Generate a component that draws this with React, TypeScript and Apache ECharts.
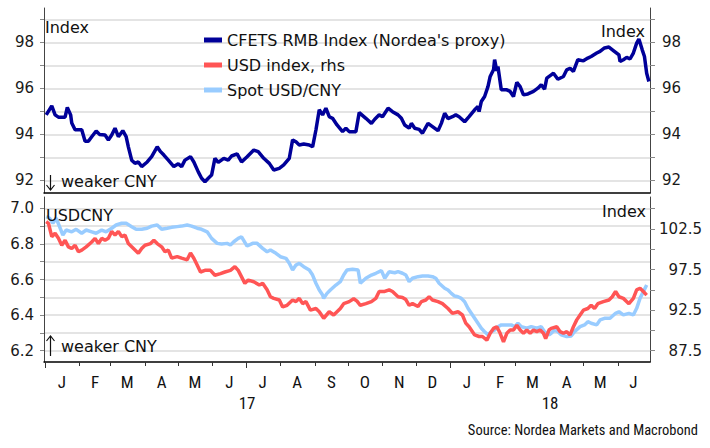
import React, { useEffect, useRef } from "react";
import * as echarts from "echarts";

// ---------- data ----------
const cfetsDates = [
  "2017-01-02","2017-01-07","2017-01-10","2017-01-13","2017-01-19","2017-01-21","2017-01-24","2017-01-25","2017-01-28",
  "2017-02-03","2017-02-06","2017-02-09","2017-02-12","2017-02-16","2017-02-19","2017-02-24","2017-02-27",
  "2017-03-02","2017-03-05","2017-03-08","2017-03-12","2017-03-15","2017-03-17","2017-03-20","2017-03-23","2017-03-26","2017-03-29",
  "2017-04-03","2017-04-07","2017-04-12","2017-04-15","2017-04-18","2017-04-22","2017-04-27",
  "2017-05-01","2017-05-04","2017-05-07","2017-05-12","2017-05-15","2017-05-19","2017-05-22","2017-05-25","2017-05-28","2017-05-31",
  "2017-06-03","2017-06-06","2017-06-11","2017-06-15","2017-06-18","2017-06-23","2017-06-27",
  "2017-07-02","2017-07-08","2017-07-12","2017-07-17","2017-07-22","2017-07-26","2017-07-31",
  "2017-08-04","2017-08-09","2017-08-12","2017-08-15","2017-08-18","2017-08-22","2017-08-27","2017-08-30",
  "2017-09-02","2017-09-05","2017-09-08","2017-09-11","2017-09-14","2017-09-17","2017-09-21","2017-09-26","2017-09-29",
  "2017-10-02","2017-10-08","2017-10-11","2017-10-17","2017-10-22","2017-10-25","2017-10-29",
  "2017-11-01","2017-11-06","2017-11-10","2017-11-15","2017-11-18","2017-11-21","2017-11-25","2017-11-27","2017-11-30",
  "2017-12-04","2017-12-07","2017-12-12","2017-12-16","2017-12-21","2017-12-24","2017-12-27","2017-12-30",
  "2018-01-03","2018-01-06","2018-01-09","2018-01-14","2018-01-18","2018-01-23","2018-01-26","2018-01-27","2018-01-29",
  "2018-02-01","2018-02-04","2018-02-06","2018-02-09","2018-02-10","2018-02-12","2018-02-13","2018-02-16","2018-02-21","2018-02-24","2018-02-27",
  "2018-03-02","2018-03-05","2018-03-08","2018-03-12","2018-03-17","2018-03-21","2018-03-24","2018-03-27","2018-03-29",
  "2018-04-02","2018-04-04","2018-04-08","2018-04-13","2018-04-16","2018-04-19","2018-04-22","2018-04-26",
  "2018-05-01","2018-05-05","2018-05-08","2018-05-13","2018-05-16","2018-05-20","2018-05-24","2018-05-28",
  "2018-06-02","2018-06-03","2018-06-06","2018-06-09","2018-06-12","2018-06-15","2018-06-18","2018-06-20","2018-06-23","2018-06-25","2018-06-27","2018-06-29",
];
const cfetsValues = [
  94.85,95.24,94.85,94.75,94.75,95.17,94.85,94.5,94.2,
  94.2,93.7,93.7,93.9,94.15,94.0,93.97,93.76,
  93.97,94.27,93.9,94.16,93.9,93.46,92.88,92.74,92.8,92.6,
  92.8,93.03,93.46,93.25,93.1,92.88,92.6,
  92.72,92.6,92.88,93.03,92.8,92.37,92.09,91.94,92.09,92.23,
  92.96,92.78,92.96,92.88,93.06,93.15,92.8,
  93.03,93.32,93.25,92.96,92.74,92.45,92.52,
  92.67,92.96,93.76,93.68,93.54,93.58,93.54,93.46,
  94.19,95.07,94.85,95.14,94.77,94.7,94.41,94.12,94.27,
  94.12,94.12,94.95,94.7,94.48,94.66,94.85,
  94.77,95.14,94.99,94.85,94.7,94.41,94.27,94.48,94.27,
  94.22,94.05,94.48,94.34,94.16,94.48,94.92,94.69,
  94.77,94.85,94.77,94.55,94.77,95.07,95.21,94.99,95.43,
  95.65,96.08,96.52,96.81,97.25,96.76,96.95,95.94,95.94,95.87,95.65,
  96.26,96.08,95.72,95.76,95.87,96.01,96.16,95.97,96.45,
  96.59,96.66,96.4,96.52,96.81,96.88,96.74,97.25,
  97.2,97.32,97.39,97.54,97.61,97.76,97.8,97.65,
  97.46,97.17,97.25,97.35,97.28,97.54,97.97,98.15,97.68,97.39,96.66,96.3,
];

const usdDates = [
  "2017-01-02","2017-01-04","2017-01-07","2017-01-10","2017-01-13","2017-01-16","2017-01-19","2017-01-22","2017-01-25","2017-01-28","2017-01-31",
  "2017-02-03","2017-02-07","2017-02-12","2017-02-15","2017-02-18","2017-02-21","2017-02-24","2017-02-27",
  "2017-03-02","2017-03-05","2017-03-08","2017-03-11","2017-03-14","2017-03-17","2017-03-20","2017-03-23","2017-03-26","2017-03-29",
  "2017-04-01","2017-04-06","2017-04-09","2017-04-12","2017-04-16","2017-04-19","2017-04-22","2017-04-25","2017-04-30",
  "2017-05-04","2017-05-09","2017-05-12","2017-05-15","2017-05-18","2017-05-21","2017-05-25","2017-05-30",
  "2017-06-03","2017-06-08","2017-06-12","2017-06-17","2017-06-21","2017-06-24","2017-06-27","2017-06-30",
  "2017-07-03","2017-07-08","2017-07-13","2017-07-16","2017-07-20","2017-07-23","2017-07-26","2017-07-31",
  "2017-08-03","2017-08-07","2017-08-12","2017-08-15","2017-08-18","2017-08-21","2017-08-24","2017-08-28",
  "2017-09-02","2017-09-05","2017-09-09","2017-09-14","2017-09-18","2017-09-21","2017-09-24","2017-09-27",
  "2017-10-02","2017-10-06","2017-10-09","2017-10-12","2017-10-17","2017-10-22","2017-10-26","2017-10-29",
  "2017-11-03","2017-11-07","2017-11-10","2017-11-15","2017-11-19","2017-11-22","2017-11-25","2017-11-28",
  "2017-12-03","2017-12-06","2017-12-10","2017-12-13","2017-12-16","2017-12-21","2017-12-25","2017-12-30",
  "2018-01-03","2018-01-08","2018-01-12","2018-01-15","2018-01-18","2018-01-23","2018-01-27","2018-01-30",
  "2018-02-03","2018-02-06","2018-02-09","2018-02-12","2018-02-15","2018-02-18","2018-02-21","2018-02-24","2018-02-27",
  "2018-03-02","2018-03-05","2018-03-08","2018-03-11","2018-03-14","2018-03-17","2018-03-20","2018-03-23","2018-03-26","2018-03-28","2018-03-31",
  "2018-04-02","2018-04-07","2018-04-10","2018-04-13","2018-04-16","2018-04-19","2018-04-22","2018-04-25","2018-04-28",
  "2018-05-01","2018-05-05","2018-05-08","2018-05-11","2018-05-14","2018-05-19","2018-05-24","2018-05-27","2018-05-30",
  "2018-06-02","2018-06-06","2018-06-11","2018-06-15","2018-06-18","2018-06-21","2018-06-24","2018-06-27",
];
const usdValues = [
  103.4,103.2,101.55,101.97,101.35,100.5,101.1,100.3,100.1,100.5,99.7,
  99.9,100.3,100.9,101.35,100.7,101.35,101.1,101.35,
  102.2,101.75,102.2,101.55,101.75,100.7,100.3,99.9,99.5,100.1,
  100.5,100.7,101.1,100.7,100.3,99.7,99.9,98.9,99.1,
  98.9,98.7,99.55,98.9,98.05,97.2,97.4,97.4,
  96.8,97.0,97.2,97.4,97.85,97.4,96.6,95.8,
  96.2,96.0,95.6,95.8,95.0,94.15,93.95,93.75,
  92.9,93.1,93.75,93.55,93.95,93.3,93.55,92.5,
  92.7,92.3,91.5,92.3,91.9,92.3,92.7,93.3,
  93.55,93.9,93.6,93.1,93.3,93.55,93.95,94.8,
  94.8,95.0,94.8,94.15,94.05,93.8,93.1,93.3,
  92.95,93.55,93.75,94.15,93.75,93.55,93.3,92.7,
  92.1,92.3,91.9,90.9,90.45,89.45,89.25,89.25,
  88.8,89.65,90.25,90.45,89.65,88.6,89.65,90.05,90.05,
  90.65,90.05,89.65,90.05,89.65,90.05,89.85,90.05,89.65,89.0,90.05,
  90.25,90.45,89.85,89.65,89.85,89.45,90.45,91.3,91.9,
  92.5,92.7,93.1,92.7,93.3,93.55,93.75,94.15,94.8,
  94.15,93.95,93.3,93.95,95.0,95.2,94.8,94.35,
];

const spotDates = [
  "2017-01-02","2017-01-05","2017-01-08","2017-01-11","2017-01-14","2017-01-17","2017-01-20","2017-01-25","2017-01-29",
  "2017-02-03","2017-02-07","2017-02-12","2017-02-16","2017-02-21","2017-02-25",
  "2017-03-02","2017-03-06","2017-03-11","2017-03-15","2017-03-20","2017-03-24","2017-03-29",
  "2017-04-03","2017-04-07","2017-04-12","2017-04-16","2017-04-21","2017-04-25","2017-04-30",
  "2017-05-04","2017-05-09","2017-05-13","2017-05-18","2017-05-22","2017-05-27","2017-05-31",
  "2017-06-05","2017-06-09","2017-06-14","2017-06-17","2017-06-20","2017-06-24","2017-06-27",
  "2017-07-02","2017-07-07","2017-07-11","2017-07-16","2017-07-20","2017-07-23","2017-07-28",
  "2017-08-01","2017-08-06","2017-08-09","2017-08-12","2017-08-15","2017-08-18","2017-08-22","2017-08-27","2017-08-30",
  "2017-09-02","2017-09-05","2017-09-08","2017-09-09","2017-09-12","2017-09-15","2017-09-20","2017-09-24","2017-09-27","2017-09-30",
  "2017-10-05","2017-10-10","2017-10-12","2017-10-17","2017-10-22","2017-10-26","2017-10-31",
  "2017-11-03","2017-11-07","2017-11-12","2017-11-15","2017-11-19","2017-11-22","2017-11-25","2017-11-28",
  "2017-12-03","2017-12-07","2017-12-12","2017-12-16","2017-12-19","2017-12-22","2017-12-27","2017-12-30",
  "2018-01-02","2018-01-05","2018-01-08","2018-01-11","2018-01-14","2018-01-17","2018-01-20","2018-01-23","2018-01-26","2018-01-29",
  "2018-02-01","2018-02-04","2018-02-07","2018-02-10","2018-02-13","2018-02-16","2018-02-21","2018-02-25","2018-02-28",
  "2018-03-03","2018-03-06","2018-03-11","2018-03-15","2018-03-20","2018-03-24","2018-03-27","2018-03-31",
  "2018-04-02","2018-04-05","2018-04-08","2018-04-11","2018-04-16","2018-04-20","2018-04-23","2018-04-28",
  "2018-05-02","2018-05-05","2018-05-08","2018-05-13","2018-05-16","2018-05-20","2018-05-25","2018-05-30",
  "2018-06-02","2018-06-06","2018-06-11","2018-06-15","2018-06-18","2018-06-21","2018-06-24","2018-06-27",
];
const spotValues = [
  6.953,6.944,6.916,6.944,6.897,6.85,6.878,6.868,6.882,
  6.86,6.878,6.868,6.86,6.878,6.868,
  6.888,6.906,6.916,6.916,6.897,6.882,6.882,
  6.888,6.9,6.906,6.882,6.888,6.893,6.897,
  6.9,6.906,6.9,6.888,6.882,6.868,6.831,
  6.803,6.8,6.803,6.794,6.812,6.831,6.84,
  6.788,6.803,6.803,6.775,6.756,6.766,6.747,
  6.728,6.719,6.691,6.653,6.681,6.691,6.672,6.653,6.625,
  6.579,6.541,6.513,6.494,6.522,6.541,6.569,6.588,6.625,6.653,
  6.657,6.653,6.579,6.607,6.625,6.635,6.65,
  6.607,6.644,6.638,6.644,6.635,6.625,6.588,6.607,
  6.616,6.62,6.62,6.616,6.607,6.579,6.551,6.541,
  6.522,6.507,6.503,6.494,6.475,6.438,6.41,6.382,6.354,6.326,
  6.307,6.289,6.307,6.316,6.335,6.345,6.345,6.345,6.335,
  6.354,6.335,6.326,6.335,6.326,6.335,6.307,6.289,
  6.298,6.316,6.307,6.289,6.279,6.283,6.307,6.335,
  6.345,6.363,6.354,6.345,6.373,6.382,6.382,6.41,
  6.419,6.401,6.41,6.401,6.438,6.494,6.532,6.569,
];

// ---------- axis ticks and labels ----------
const monthLetters = ["J", "F", "M", "A", "M", "J", "J", "A", "S", "O", "N", "D"];
const monthStarts = [
  "2017-01-01","2017-02-01","2017-03-01","2017-04-01","2017-05-01","2017-06-01","2017-07-01","2017-08-01","2017-09-01",
  "2017-10-01","2017-11-01","2017-12-01","2018-01-01","2018-02-01","2018-03-01","2018-04-01","2018-05-01","2018-06-01",
];
const monthMids = [
  "2017-01-16","2017-02-15","2017-03-16","2017-04-16","2017-05-16","2017-06-16","2017-07-16","2017-08-16","2017-09-16",
  "2017-10-16","2017-11-16","2017-12-16","2018-01-16","2018-02-15","2018-03-16","2018-04-16","2018-05-16","2018-06-15",
];
const yearTicks = ["2017-01-01", "2017-07-01", "2018-01-01"];
const yearLabelDates = ["2017-07-02", "2018-04-01"];
const xStart = "2016-12-31";
const xEnd = "2018-06-30";

const cfetsTicks = [92, 93, 94, 95, 96, 97, 98, 99];
const cfetsLabels = [92, 94, 96, 98];
const cnyTicks = [6.2, 6.3, 6.4, 6.5, 6.6, 6.7, 6.8, 6.9, 7.0];
const cnyLabels = [6.2, 6.4, 6.6, 6.8, 7.0];
const usdTicks = [87.5, 90, 92.5, 95, 97.5, 100, 102.5, 105];
const usdLabels = [87.5, 92.5, 97.5, 102.5];

const ts = (s: string) => Date.parse(s + "T00:00:00Z");
const zip = (d: string[], v: number[]) => d.map((x, i) => [ts(x), v[i]]);

const FONT = "DejaVu Sans";
const NARROW = "'Liberation Sans Narrow', 'Roboto Condensed', 'Arial Narrow', sans-serif";
const GRID_COLOR = "#e4e4e4";
const AXIS_COLOR = "#444";

export default function App() {
  const ref = useRef<HTMLDivElement>(null);

  useEffect(() => {
    if (!ref.current) return;
    const chart = echarts.init(ref.current, undefined, { renderer: "svg" });

    const tickLabel = { fontFamily: FONT, fontSize: 15, color: "#1a1a1a" };
    const xMin = ts(xStart);
    const xMax = ts(xEnd);

    const text = (t: string, x: number, y: number, align = "left", font = FONT, size = 16) => ({
      type: "text",
      x,
      y,
      silent: true,
      z: 10,
      style: {
        text: t,
        fill: "#111",
        fontFamily: font,
        fontSize: size,
        align,
        textAlign: align,
        verticalAlign: "middle",
        textVerticalAlign: "middle",
      },
    });
    const arrowStyle = { stroke: "#111", lineWidth: 1.2, fill: "none" };
    const arrow = (x: number, yTail: number, yHead: number) => {
      const dir = yHead > yTail ? -1 : 1;
      return [
        { type: "line", silent: true, z: 10, shape: { x1: x, y1: yTail, x2: x, y2: yHead }, style: arrowStyle },
        {
          type: "polyline",
          silent: true,
          z: 10,
          shape: { points: [[x - 4, yHead + dir * 5], [x, yHead], [x + 4, yHead + dir * 5]] },
          style: arrowStyle,
        },
      ];
    };

    chart.setOption({
      animation: false,
      backgroundColor: "#ffffff",
      grid: [
        { left: 44, right: 60, top: 8, height: 185 },
        { left: 44, right: 60, top: 197, height: 165 },
      ],
      legend: {
        orient: "vertical",
        left: 199,
        top: 27,
        itemWidth: 18,
        itemHeight: 5,
        itemGap: 9,
        icon: "rect",
        data: ["CFETS RMB Index (Nordea's proxy)", "USD index, rhs", "Spot USD/CNY"],
        textStyle: { fontFamily: FONT, fontSize: 16, color: "#111" },
      },
      xAxis: [
        {
          type: "value",
          gridIndex: 0,
          min: xMin,
          max: xMax,
          axisLine: { show: true, onZero: false, lineStyle: { color: "#000", width: 1.5 } },
          axisTick: { show: false },
          axisLabel: { show: false },
          splitLine: { show: false },
        },
        {
          type: "value",
          gridIndex: 1,
          position: "bottom",
          min: xMin,
          max: xMax,
          axisLine: { show: true, onZero: false, lineStyle: { color: "#000", width: 1.5 } },
          axisTick: { show: true, customValues: monthStarts.map(ts), length: 4, lineStyle: { color: "#333" } },
          axisLabel: {
            show: true,
            customValues: monthMids.map(ts),
            margin: 11,
            fontFamily: NARROW,
            fontSize: 17,
            color: "#111",
            formatter: (v: number) => monthLetters[new Date(v).getUTCMonth()],
          },
          splitLine: { show: false },
        },
        {
          type: "value",
          gridIndex: 1,
          position: "bottom",
          offset: 0,
          min: xMin,
          max: xMax,
          axisLine: { show: false, onZero: false },
          axisTick: { show: true, customValues: yearTicks.map(ts), length: 6, lineStyle: { color: "#333" } },
          axisLabel: {
            show: true,
            customValues: yearLabelDates.map(ts),
            margin: 32,
            fontFamily: NARROW,
            fontSize: 17,
            color: "#111",
            formatter: (v: number) => String(new Date(v).getUTCFullYear()).slice(2),
          },
          splitLine: { show: false },
        },
      ],
      yAxis: [
        {
          type: "value",
          gridIndex: 0,
          position: "left",
          min: 91.45,
          max: 99.5,
          axisLine: { show: true, lineStyle: { color: AXIS_COLOR } },
          axisTick: { show: true, customValues: cfetsTicks, length: 4, lineStyle: { color: "#888" } },
          axisLabel: { ...tickLabel, customValues: cfetsLabels, margin: 10 },
          splitLine: { show: true, lineStyle: { color: GRID_COLOR, width: 2 } },
        },
        {
          type: "value",
          gridIndex: 0,
          position: "right",
          min: 91.45,
          max: 99.5,
          axisLine: { show: true, lineStyle: { color: AXIS_COLOR } },
          axisTick: { show: true, customValues: cfetsTicks, length: 5, lineStyle: { color: "#888" } },
          axisLabel: { ...tickLabel, customValues: cfetsLabels, margin: 12 },
          splitLine: { show: false },
        },
        {
          type: "value",
          gridIndex: 1,
          position: "left",
          min: 6.1365,
          max: 7.0635,
          axisLine: { show: true, lineStyle: { color: AXIS_COLOR } },
          axisTick: { show: true, customValues: cnyTicks, length: 4, lineStyle: { color: "#888" } },
          axisLabel: {
            ...tickLabel,
            customValues: cnyLabels,
            margin: 10,
            formatter: (v: number) => v.toFixed(1),
          },
          splitLine: { show: true, lineStyle: { color: GRID_COLOR, width: 2 } },
        },
        {
          type: "value",
          gridIndex: 1,
          position: "right",
          min: 86.11,
          max: 106.44,
          axisLine: { show: true, lineStyle: { color: AXIS_COLOR } },
          axisTick: { show: true, customValues: usdTicks, length: 5, lineStyle: { color: "#888" } },
          axisLabel: {
            ...tickLabel,
            customValues: usdLabels,
            margin: 52,
            align: "right",
            formatter: (v: number) => v.toFixed(1),
          },
          splitLine: { show: false },
        },
      ],
      series: [
        {
          name: "CFETS RMB Index (Nordea's proxy)",
          type: "line",
          xAxisIndex: 0,
          yAxisIndex: 0,
          data: zip(cfetsDates, cfetsValues),
          showSymbol: false,
          color: "#000099",
          lineStyle: { width: 3.5, color: "#000099" },
          z: 3,
        },
        {
          name: "Spot USD/CNY",
          type: "line",
          xAxisIndex: 1,
          yAxisIndex: 2,
          data: zip(spotDates, spotValues),
          showSymbol: false,
          color: "#99ccff",
          lineStyle: { width: 3.5, color: "#99ccff" },
          z: 3,
        },
        {
          name: "USD index, rhs",
          type: "line",
          xAxisIndex: 1,
          yAxisIndex: 3,
          data: zip(usdDates, usdValues),
          showSymbol: false,
          color: "#ff5555",
          lineStyle: { width: 3.5, color: "#ff5555" },
          z: 4,
        },
      ],
      graphic: [
        text("Index", 45, 27),
        text("Index", 645, 31, "right"),
        ...arrow(50.5, 175, 190),
        text("weaker CNY", 61, 181),
        text("USDCNY", 46, 215),
        text("Index", 646, 211, "right"),
        ...arrow(50.5, 356, 336),
        text("weaker CNY", 61, 346),
        text("Source: Nordea Markets and Macrobond", 698, 430, "right", NARROW, 14.5),
      ],
    });

    return () => chart.dispose();
  }, []);

  return (
    <div
      ref={ref}
      style={{ position: "absolute", left: 0, top: 0, width: 710, height: 448, background: "#fff" }}
    />
  );
}
